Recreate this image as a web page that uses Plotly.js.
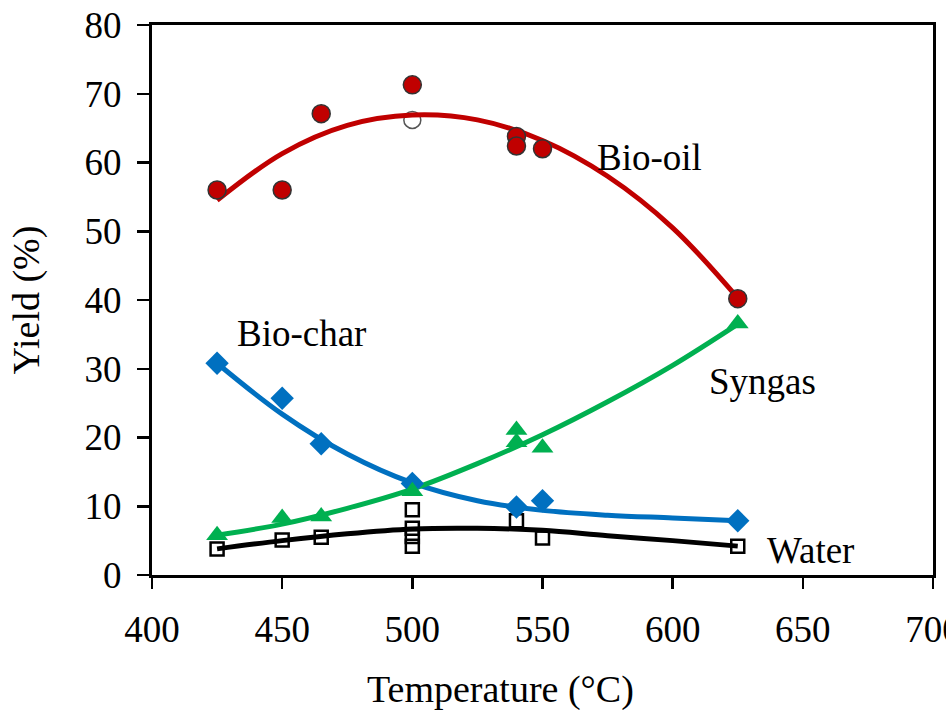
<!DOCTYPE html>
<html>
<head>
<meta charset="utf-8">
<script src="https://cdn.plot.ly/plotly-3.0.1.min.js"></script>
<style>html,body{margin:0;padding:0;background:#fff;}#chart{width:946px;height:710px;}</style>
</head>
<body>
<div id="chart"></div>
<script>
// Measured points
const oilX = [425, 450, 465, 500, 540, 540, 550, 625];
const oilY = [56.0, 56.0, 67.1, 71.3, 63.8, 62.4, 62.0, 40.2];
const oilOpenX = [500];
const oilOpenY = [66.2];
const charX = [425, 450, 465, 500, 540, 550, 625];
const charY = [30.8, 25.7, 19.1, 13.3, 9.9, 10.8, 7.9];
const gasX = [425, 450, 465, 500, 540, 540, 550, 625];
const gasY = [5.8, 8.3, 8.5, 12.2, 21.1, 19.3, 18.5, 36.6];
const waterX = [425, 450, 465, 500, 500, 500, 500, 540, 550, 625];
const waterY = [3.8, 5.1, 5.5, 9.5, 6.8, 5.6, 4.2, 7.9, 5.4, 4.2];

// Trend curves
const fitX = [425, 450, 475, 500, 525, 550, 575, 600, 625];
const oilFit = [54.5, 61.3, 65.4, 66.9, 66.2, 63.2, 58.0, 50.5, 40.3];
const gasFit = [5.8, 7.4, 9.7, 12.5, 16.2, 20.4, 25.2, 30.5, 36.5];
const waterFit = [3.8, 5.0, 6.0, 6.7, 6.8, 6.5, 5.7, 5.0, 4.2];
const charFitX = [425, 450, 475, 500, 525, 550, 575, 600, 625];
const charFit = [30.8, 23.4, 17.6, 13.4, 10.8, 9.4, 8.7, 8.3, 7.9];

const xTicks = [400, 450, 500, 550, 600, 650, 700];
const yTicks = [0, 10, 20, 30, 40, 50, 60, 70, 80];

const RED = '#C00000', BLUE = '#0070C0', GREEN = '#00B050', BLACK = '#000000';
const FONT = 'Liberation Serif, Times New Roman, serif';
const TF = 37;

const traces = [
  {x: oilOpenX, y: oilOpenY, mode: 'markers', type: 'scatter',
   marker: {symbol: 'circle', size: 17, color: '#ffffff', line: {color: '#555555', width: 1.5}}},
  {x: waterX, y: waterY, mode: 'markers', type: 'scatter',
   marker: {symbol: 'square-open', size: 13, color: BLACK, line: {color: BLACK, width: 2.5}}},
  {x: fitX, y: waterFit, mode: 'lines', type: 'scatter', line: {color: BLACK, width: 5, shape: 'spline'}},
  {x: charFitX, y: charFit, mode: 'lines', type: 'scatter', line: {color: BLUE, width: 5, shape: 'spline'}},
  {x: fitX, y: gasFit, mode: 'lines', type: 'scatter', line: {color: GREEN, width: 5, shape: 'spline'}},
  {x: fitX, y: oilFit, mode: 'lines', type: 'scatter', line: {color: RED, width: 5, shape: 'spline'}},
  {x: charX, y: charY, mode: 'markers', type: 'scatter',
   marker: {symbol: 'diamond', size: 18, color: BLUE}},
  {x: gasX, y: gasY, mode: 'markers', type: 'scatter',
   marker: {symbol: 'triangle-up', size: 19, color: GREEN}},
  {x: oilX, y: oilY, mode: 'markers', type: 'scatter',
   marker: {symbol: 'circle', size: 18, color: RED, line: {color: '#333333', width: 1.5}}}
];

const layout = {
  width: 946, height: 710,
  margin: {l: 152, r: 13, t: 25, b: 135},
  paper_bgcolor: '#ffffff', plot_bgcolor: '#ffffff',
  showlegend: false,
  font: {family: FONT, size: TF, color: '#000'},
  xaxis: {
    range: [400, 700], tickvals: xTicks, ticktext: xTicks.map(String),
    showgrid: false, zeroline: false,
    showline: true, linecolor: '#000', linewidth: 3, mirror: true,
    ticks: 'outside', ticklen: 11, tickwidth: 2.5, tickcolor: '#000',
    ticklabeloverflow: 'allow', ticklabelstandoff: 9,
    tickfont: {family: FONT, size: TF, color: '#000'}
  },
  yaxis: {
    range: [0, 80], tickvals: yTicks, ticktext: yTicks.map(String),
    showgrid: false, zeroline: false,
    showline: true, linecolor: '#000', linewidth: 3, mirror: true,
    ticks: 'outside', ticklen: 12, tickwidth: 2.5, tickcolor: '#000',
    ticklabelstandoff: 8,
    tickfont: {family: FONT, size: TF, color: '#000'},
    title: {text: 'Yield (%)', font: {family: FONT, size: 38, color: '#000'}, standoff: 34}
  },
  annotations: [
    {xref: 'paper', yref: 'paper', x: 0.4456, y: -0.208, yanchor: 'middle', xanchor: 'center',
     text: 'Temperature (°C)', showarrow: false, font: {family: FONT, size: 38, color: '#000'}},
    {xref: 'x', yref: 'y', x: 591, y: 60.8, text: 'Bio-oil', showarrow: false,
     font: {family: FONT, size: 37, color: '#000'}},
    {xref: 'x', yref: 'y', x: 457.6, y: 35.2, text: 'Bio-char', showarrow: false,
     font: {family: FONT, size: 37, color: '#000'}},
    {xref: 'x', yref: 'y', x: 634.5, y: 28.1, text: 'Syngas', showarrow: false,
     font: {family: FONT, size: 37, color: '#000'}},
    {xref: 'x', yref: 'y', x: 653.1, y: 3.6, text: 'Water', showarrow: false,
     font: {family: FONT, size: 37, color: '#000'}}
  ]
};

Plotly.newPlot('chart', traces, layout, {displayModeBar: false, staticPlot: true});
</script>
</body>
</html>
